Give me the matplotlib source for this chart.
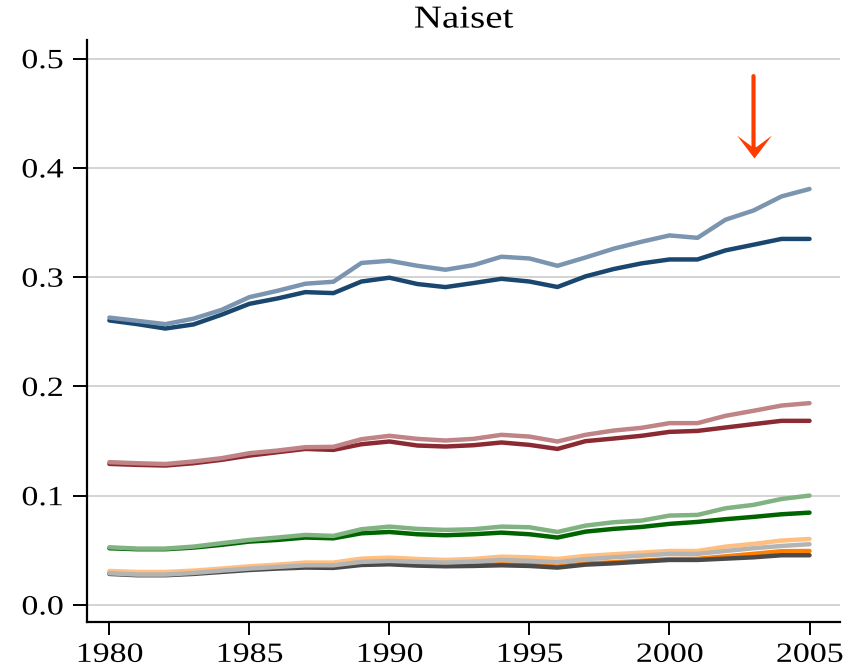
import matplotlib
matplotlib.use("Agg")
import matplotlib.pyplot as plt
from matplotlib.path import Path
from matplotlib.transforms import Affine2D
from matplotlib.patheffects import AbstractPathEffect

years = list(range(1980, 2006))

blue_dark = [0.2604, 0.257, 0.253, 0.2567, 0.2656, 0.2756, 0.2805, 0.2863, 0.2854, 0.296,
             0.2995, 0.2937, 0.2909, 0.2946, 0.2985, 0.296, 0.291, 0.3007, 0.3074, 0.3126,
             0.3162, 0.3162, 0.3245, 0.3297, 0.335, 0.335]
blue_light = [0.263, 0.260, 0.257, 0.262, 0.270, 0.2817, 0.2875, 0.294, 0.2958, 0.313,
              0.315, 0.3104, 0.3068, 0.311, 0.3187, 0.3171, 0.3104, 0.318, 0.326, 0.3324,
              0.3382, 0.336, 0.3526, 0.361, 0.3739, 0.3807]
red_dark = [0.1291, 0.1282, 0.1276, 0.1297, 0.1328, 0.1367, 0.1398, 0.1428, 0.1419, 0.1471,
            0.1496, 0.1459, 0.145, 0.1462, 0.1487, 0.1465, 0.1428, 0.1499, 0.1523, 0.1548,
            0.1584, 0.1593, 0.1624, 0.1655, 0.1685, 0.1685]
red_light = [0.1307, 0.1297, 0.129, 0.1313, 0.1343, 0.1389, 0.1413, 0.1444, 0.1447, 0.1517,
             0.1548, 0.152, 0.1505, 0.152, 0.1557, 0.1541, 0.1496, 0.1557, 0.1596, 0.1621,
             0.1664, 0.1664, 0.1731, 0.1777, 0.1825, 0.1847]
green_dark = [0.0519, 0.051, 0.051, 0.0525, 0.055, 0.058, 0.0595, 0.0617, 0.061, 0.0656,
              0.0668, 0.0647, 0.0638, 0.0647, 0.0662, 0.0647, 0.0617, 0.0671, 0.0696, 0.0714,
              0.0742, 0.076, 0.0785, 0.0806, 0.083, 0.0845]
green_light = [0.0528, 0.0516, 0.0516, 0.0534, 0.0565, 0.0595, 0.0617, 0.0641, 0.0632, 0.0693,
               0.0717, 0.0696, 0.0687, 0.0693, 0.0717, 0.0711, 0.0668, 0.0726, 0.0757, 0.0772,
               0.0818, 0.0824, 0.0885, 0.0916, 0.097, 0.1001]
orange_dark = [0.0292, 0.0281, 0.0281, 0.0293, 0.0311, 0.0329, 0.0342, 0.0352, 0.0349, 0.0376,
               0.0382, 0.0370, 0.0364, 0.0367, 0.0373, 0.0367, 0.0352, 0.0379, 0.0391, 0.0405,
               0.0420, 0.0422, 0.0445, 0.0468, 0.0492, 0.0494]
orange_light = [0.0311, 0.0302, 0.0302, 0.0314, 0.0333, 0.0354, 0.0369, 0.0388, 0.0388, 0.0424,
                0.0433, 0.0421, 0.0412, 0.0421, 0.0442, 0.0436, 0.0421, 0.0449, 0.0464, 0.0479,
                0.0494, 0.0494, 0.0534, 0.0559, 0.0589, 0.0604]
gray_dark = [0.0284, 0.0272, 0.0272, 0.0284, 0.0302, 0.032, 0.0333, 0.0342, 0.0339, 0.0366,
             0.0372, 0.036, 0.0354, 0.0357, 0.0363, 0.0357, 0.0342, 0.0369, 0.0381, 0.0397,
             0.0412, 0.0412, 0.0424, 0.0436, 0.0455, 0.0455]
gray_light = [0.029, 0.0278, 0.0278, 0.0293, 0.0314, 0.0333, 0.0348, 0.0363, 0.0363, 0.0394,
              0.0403, 0.0394, 0.0388, 0.0397, 0.0412, 0.0403, 0.0391, 0.0418, 0.0436, 0.0452,
              0.0467, 0.0467, 0.0494, 0.0519, 0.054, 0.0556]

title = "Naiset"
y_ticks = [0.0, 0.1, 0.2, 0.3, 0.4, 0.5]
y_ticklabels = ["0.0", "0.1", "0.2", "0.3", "0.4", "0.5"]
x_ticks = [1980, 1985, 1990, 1995, 2000, 2005]
arrow_year = 2003
arrow_from = 0.484
arrow_to = 0.409


class Stretch(AbstractPathEffect):
    """Widen text horizontally about its anchor (left/center/right)."""
    def __init__(self, sx, anchor="center"):
        super().__init__()
        self.sx = sx
        self.anchor = anchor

    def draw_path(self, renderer, gc, tpath, affine, rgbFace=None):
        v = tpath.vertices
        if len(v):
            x0, x1 = v[:, 0].min(), v[:, 0].max()
        else:
            x0 = x1 = 0.0
        piv = {"left": x0, "right": x1}.get(self.anchor, 0.5 * (x0 + x1))
        aff = Affine2D().translate(-piv, 0).scale(self.sx, 1).translate(piv, 0) + affine
        renderer.draw_path(gc, tpath, aff, rgbFace)


plt.rcParams['font.family'] = ['Liberation Serif', 'DejaVu Serif']

fig = plt.figure(figsize=(8.61, 6.72), dpi=100)
ax = fig.add_axes([0.101, 0.0744, 0.875, 0.866])

series = [
    (blue_dark, "#1a476f"), (blue_light, "#7b95b0"),
    (red_dark, "#8c2a33"), (red_light, "#c08386"),
    (green_dark, "#006400"), (green_light, "#80b381"),
    (orange_dark, "#ff7f00"), (orange_light, "#ffbf80"),
    (gray_dark, "#4a4a4a"), (gray_light, "#b4b4b4"),
]
for z, (vals, col) in enumerate(series):
    ax.plot(years, vals, color=col, lw=3.2, solid_capstyle='round',
            solid_joinstyle='round', zorder=3 + z * 0.01)

arrow_color = "#ff3c00"
# shaft
ax.annotate("", xy=(arrow_year, arrow_to), xytext=(arrow_year, arrow_from),
            arrowprops=dict(arrowstyle="-", color=arrow_color, lw=3,
                            shrinkA=0, shrinkB=8),
            zorder=5)
# notched head (tip at origin, pointing down)
head = Path([(0, 0), (17.5, 23), (2.0, 11.5), (-2.0, 11.5), (-17.5, 23), (0, 0)],
            [Path.MOVETO, Path.LINETO, Path.LINETO, Path.LINETO, Path.LINETO,
             Path.CLOSEPOLY])
ax.plot([arrow_year], [arrow_to], marker=head, markersize=33, color=arrow_color,
        markeredgewidth=0, linestyle='none', zorder=6)

ax.set_xlim(1979.2, 2006.1)
ax.set_ylim(-0.0156, 0.517)
ax.set_yticks(y_ticks)
ax.set_yticklabels(y_ticklabels)
ax.set_xticks(x_ticks)
ax.set_xticklabels([str(t) for t in x_ticks])
ax.grid(axis='y', color='#d0d0d0', lw=1.3, zorder=0)
ax.set_axisbelow(True)
for s in ['top', 'right']:
    ax.spines[s].set_visible(False)
for s in ['left', 'bottom']:
    ax.spines[s].set_linewidth(1.6)
ax.tick_params(axis='both', labelsize=20, width=1.4, length=10, pad=7, direction='out')
ax.tick_params(axis='x', length=9, pad=6)
t = ax.set_title(title, fontsize=23, pad=9)
t.set_path_effects([Stretch(1.22, "center")])
for lab in ax.get_yticklabels():
    lab.set_path_effects([Stretch(1.22, "right")])
for lab in ax.get_xticklabels():
    lab.set_path_effects([Stretch(1.22, "center")])

fig.savefig("out.png", dpi=100)
